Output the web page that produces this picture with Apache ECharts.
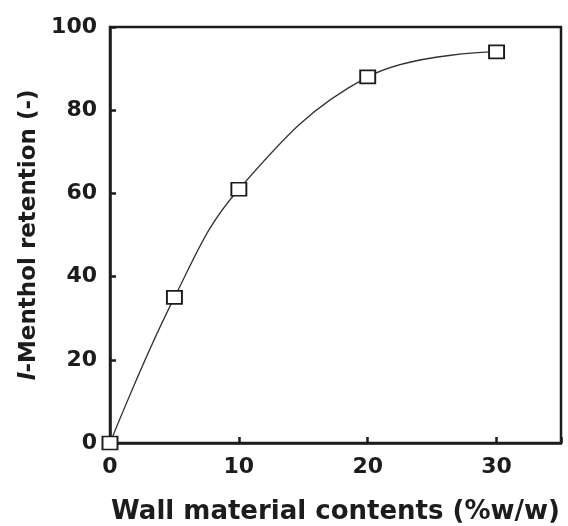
<!DOCTYPE html>
<html>
<head>
<meta charset="utf-8">
<style>
  html, body { margin: 0; padding: 0; background: #fff; }
  #chart { width: 568px; height: 526px; }
</style>
<script src="https://cdn.jsdelivr.net/npm/echarts@6/dist/echarts.min.js"></script>
</head>
<body>
<div id="chart"></div>
<script>
// Wall material content (%w/w) vs. l-menthol retention
const wallContent = [0, 5, 10, 20, 30];
const retention = [0, 35, 61, 88, 94];
const xTicks = [0, 10, 20, 30];
const yTicks = [0, 20, 40, 60, 80, 100];

const chart = echarts.init(document.getElementById('chart'));
const ink = '#1c1c1c';
const font = '"DejaVu Sans", "Liberation Sans", Arial, sans-serif';

chart.setOption({
  animation: false,
  grid: {
    left: 110, right: 7, top: 27, bottom: 83,
    containLabel: false, outerBoundsMode: 'none',
    show: true, borderColor: ink, borderWidth: 2.5
  },
  xAxis: {
    type: 'value', min: 0, max: 35, interval: 10,
    axisLine: { show: true, onZero: false, lineStyle: { color: ink, width: 2.5 } },
    axisTick: { show: true, inside: true, length: 6, lineStyle: { color: ink, width: 2.5 } },
    splitLine: { show: false },
    axisLabel: {
      color: ink, fontFamily: font, fontWeight: 'bold', fontSize: 22, margin: 13,
      formatter: v => xTicks.includes(v) ? String(v) : ''
    },
    name: 'Wall material contents (%w/w)',
    nameLocation: 'middle', nameGap: 56,
    nameTextStyle: { color: ink, fontFamily: font, fontWeight: 'bold', fontSize: 26 }
  },
  yAxis: {
    type: 'value', min: 0, max: 100, interval: 20,
    axisLine: { show: true, lineStyle: { color: ink, width: 2.5 } },
    axisTick: { show: true, inside: true, length: 6, lineStyle: { color: ink, width: 2.5 } },
    splitLine: { show: false },
    axisLabel: {
      color: ink, fontFamily: font, fontWeight: 'bold', fontSize: 22, margin: 13,
      formatter: v => yTicks.includes(v) ? String(v) : ''
    },
    name: '{i|l}-Menthol retention (-)',
    nameLocation: 'middle', nameGap: 68,
    nameTextStyle: {
      color: ink, fontFamily: font, fontWeight: 'bold', fontSize: 23,
      rich: { i: { fontStyle: 'italic', fontWeight: 'bold', fontSize: 23, fontFamily: font, color: ink } }
    }
  },
  series: [{
    type: 'line',
    data: wallContent.map((x, i) => [x, retention[i]]),
    smooth: 0.4,
    lineStyle: { color: '#333', width: 1.3 },
    symbol: 'rect', symbolSize: [15, 13],
    itemStyle: { color: '#fff', borderColor: ink, borderWidth: 1.8 },
    z: 5
  }]
});
</script>
</body>
</html>
